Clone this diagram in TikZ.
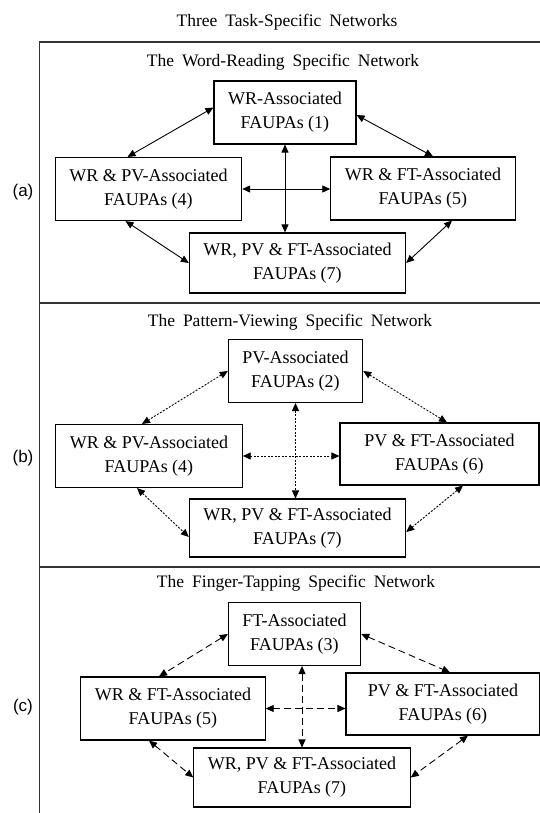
\documentclass[tikz,border=0pt]{standalone}
\usepackage{fontspec}
\setmainfont{Liberation Serif}
\newfontfamily\panelfont{Liberation Sans}
\usetikzlibrary{positioning,arrows.meta,calc}
\newcommand\wordgap{\spaceskip=8pt plus 1pt\relax}
\tikzset{block/.style={draw, line width=1.1pt, align=center, inner xsep=14pt, minimum height=63pt, font=\fontsize{18}{24}\selectfont},
	line/.style={{Triangle[length=8pt,width=7pt]}-{Triangle[length=8pt,width=7pt]}, line width=0.9pt},
	title/.style={font=\fontsize{17.5}{21}\selectfont},
	panel/.style={font=\panelfont\fontsize{17}{20}\selectfont},
	frame/.style={line width=1.3pt, draw=black!80}
}

\begin{document}
\begin{tikzpicture}[x=1pt,y=-1pt]
\tikzstyle{dotline} = [line, dash pattern=on 2pt off 1.5pt]
\tikzstyle{dashline} = [line, dash pattern=on 7pt off 4pt]

\useasboundingbox (0,0) rectangle (540,813);
\clip (0,0) rectangle (540,813);

% frame and separators
\draw[frame] (39.5,820) -- (39.5,42) -- (550,42);
\draw[frame] (39.5,303) -- (550,303);
\draw[frame] (39.5,567) -- (550,567);

\node[title] (T) at (287,22) {\wordgap Three Task-Specific Networks};
\node[title] (TA) at (283,62) {\wordgap The Word-Reading Specific Network};
\node[title] (TB) at (290,322) {\wordgap The Pattern-Viewing Specific Network};
\node[title] (TC) at (296,583) {\wordgap The Finger-Tapping Specific Network};

\node[panel] (LA) at (23,192) {(a)};
\node[panel] (LB) at (23,458) {(b)};
\node[panel] (LC) at (23,707) {(c)};

% (a) word reading
\node[block] (A1) at (285,112.5) {WR-Associated\\FAUPAs (1)};
\node[block] (A4) at (148.5,189) {WR \& PV-Associated\\FAUPAs (4)};
\node[block] (A5) at (423,188.5) {WR \& FT-Associated\\FAUPAs (5)};
\node[block, minimum height=60pt] (A7) at (297.5,263) {WR, PV \& FT-Associated\\FAUPAs (7)};

% (b) pattern viewing
\node[block] (B2) at (295.5,371) {PV-Associated\\FAUPAs (2)};
\node[block] (B4) at (149,456) {WR \& PV-Associated\\FAUPAs (4)};
\node[block, minimum width=199pt, minimum height=62pt] (B6) at (439.5,454) {PV \& FT-Associated\\FAUPAs (6)};
\node[block, minimum height=58pt] (B7) at (297.5,528) {WR, PV \& FT-Associated\\FAUPAs (7)};

% (c) finger tapping
\node[block] (C3) at (294.5,634) {FT-Associated\\FAUPAs (3)};
\node[block] (C5) at (173,708.5) {WR \& FT-Associated\\FAUPAs (5)};
\node[block, minimum width=194pt, minimum height=62pt] (C6) at (443,704) {PV \& FT-Associated\\FAUPAs (6)};
\node[block, minimum height=59pt] (C7) at (302,777.5) {WR, PV \& FT-Associated\\FAUPAs (7)};

%Lines
\draw[line] ([yshift=5pt]A1.west) -- ([xshift=-21pt]A4.north);
\draw[line] ([yshift=-2.5pt]A1.east) -- ([xshift=10pt]A5.north);
\draw[line] (A1.south) -- (A1.south |- A7.north);
\draw[line] (A4.east) -- (A4.east -| A5.west);
\draw[line] ([xshift=-23pt]A4.south) -- (A7.west);
\draw[line] ([xshift=29pt]A5.south) -- (A7.east);

\draw[dotline] (B2.west) -- ([xshift=-7pt]B4.north);
\draw[dotline] (B2.east) -- ([xshift=7.5pt]B6.north);
\draw[dotline] (B2.south) -- (B2.south |- B7.north);
\draw[dotline] (B4.east) -- (B4.east -| B6.west);
\draw[dotline] ([xshift=-12pt]B4.south) -- ([yshift=-9pt]B7.west);
\draw[dotline] ([xshift=23.5pt]B6.south) -- ([yshift=-4pt]B7.east);

\draw[dashline] (C3.west) -- ([xshift=-14pt]C5.north);
\draw[dashline] (C3.east) -- ([xshift=7pt]C6.north);
\draw[dashline] (C3.south -| C7.north) -- (C7.north);
\draw[dashline] (C5.east) -- (C5.east -| C6.west);
\draw[dashline] ([xshift=-24pt]C5.south) -- (C7.west);
\draw[dashline] ([xshift=25pt]C6.south) -- (C7.east);
\end{tikzpicture}
\end{document}
